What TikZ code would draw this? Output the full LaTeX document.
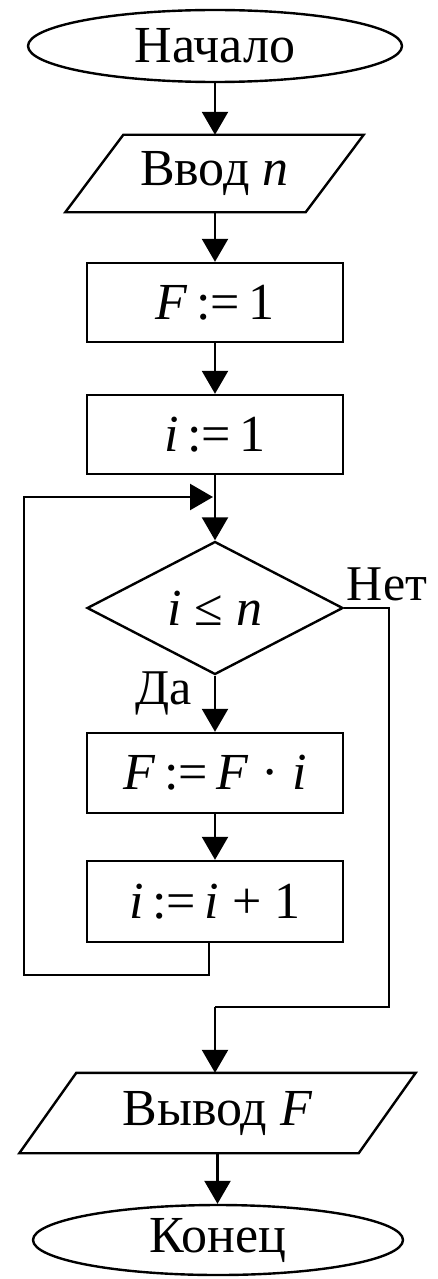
\documentclass[tikz,border=0pt]{standalone}
\usepackage{fontspec}
\setmainfont{Liberation Serif}
\usetikzlibrary{shapes.geometric,arrows.meta}
\tikzset{
  flow/.style={line width=2.4pt},
  arr/.style={flow,-{Triangle[width=26pt,length=23pt]}},
  term/.style={ellipse,draw,line width=2.4pt,inner sep=0pt},
  procbox/.style={rectangle,draw,line width=2.4pt,inner sep=0pt,minimum width=256pt},
  iobox/.style={rectangle,draw=none,inner sep=0pt},
  decide/.style={diamond,draw,line width=2.4pt,inner sep=0pt,minimum width=256pt,minimum height=133pt},
  lbl/.style={inner sep=0pt},
}
\newcommand{\bigtext}{\fontsize{52}{60}\selectfont}
\newcommand{\lbltext}{\fontsize{50}{58}\selectfont}
\begin{document}
\begin{tikzpicture}[x=1pt,y=-1pt,font=\bigtext]
\useasboundingbox (0,0) rectangle (437,1279);
% nodes
\node[term,minimum width=374pt,minimum height=72pt] (start) at (215,46) {Начало};
\node[iobox,minimum width=240pt,minimum height=77pt] (in) at (214.5,173.5) {Ввод \textit{n}};
\draw[flow,line join=miter] ([xshift=29pt]in.north west) -- ([xshift=29pt]in.north east)
  -- ([xshift=-29pt]in.south east) -- ([xshift=-29pt]in.south west) -- cycle;
\node[procbox,minimum height=79pt] (b1) at (215,302.5) {\textit{F}\,:=\,1};
\node[procbox,minimum height=79pt] (b2) at (215,434.5) {\textit{i}\,:=\,1};
\node[decide] (cond) at (215,608) {\textit{i} ≤ \textit{n}};
\node[procbox,minimum height=80pt] (b3) at (215,773) {\textit{F}\,:=\,\textit{F} · \textit{i}};
\node[procbox,minimum height=81pt] (b4) at (215,901.5) {\textit{i}\,:=\,\textit{i} + 1};
\node[iobox,minimum width=339pt,minimum height=80pt] (out) at (217.5,1113) {Вывод \textit{F}};
\draw[flow,line join=miter] ([xshift=28.5pt]out.north west) -- ([xshift=28.5pt]out.north east)
  -- ([xshift=-28.5pt]out.south east) -- ([xshift=-28.5pt]out.south west) -- cycle;
\node[term,minimum width=370pt,minimum height=70pt] (end) at (218,1240) {Конец};
% labels
\node[lbl,font=\lbltext] (yes) at (164,693) {Да};
\node[lbl,font=\lbltext] (no) at (387,584) {Нет};
% coordinates
\coordinate (join) at (215,497);
\coordinate (merge) at (215,1007);
% connectors
\draw[arr] (start.south) -- (in.north -| start.south);
\draw[arr] (in.south -| b1.north) -- (b1.north);
\draw[arr] (b1.south) -- (b2.north);
\draw[arr] (b2.south) -- (cond.north);
\draw[arr] (cond.south) -- (b3.north);
\draw[arr] (b3.south) -- (b4.north);
\draw[arr] ([xshift=-6pt]b4.south) |- (24,975) |- ([xshift=-2pt]join);
\draw[flow] (cond.east) -| (389,1007) -- (merge);
\draw[arr] (merge) -- (out.north -| merge);
\draw[arr] (out.south) -- (end.north -| out.south);
\end{tikzpicture}
\end{document}
